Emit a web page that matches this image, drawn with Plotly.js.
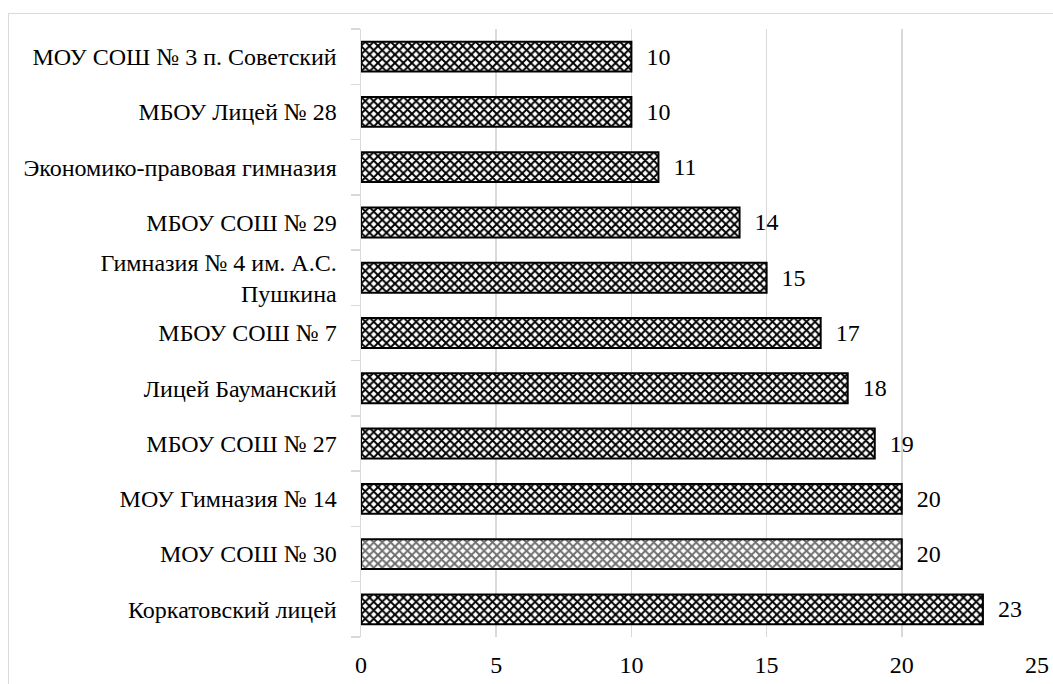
<!DOCTYPE html>
<html>
<head>
<meta charset="utf-8">
<script src="https://cdn.plot.ly/plotly-3.0.1.min.js"></script>
<style>
  html, body { margin: 0; padding: 0; background: #fff; }
  #wrap { position: relative; width: 1053px; height: 684px; overflow: hidden; }
  #chart { position: absolute; left: 0; top: 0; width: 1053px; height: 684px; }
  #frame { position: absolute; left: 8px; top: 13px; width: 1060px; height: 700px;
           border: 1.5px solid #d9d9d9; pointer-events: none; }
</style>
</head>
<body>
<div id="wrap">
  <div id="chart"></div>
  <div id="frame"></div>
</div>
<script>
// Categories listed from bottom to top
const categories = [
  "Коркатовский лицей",
  "МОУ СОШ № 30",
  "МОУ Гимназия № 14",
  "МБОУ СОШ № 27",
  "Лицей Бауманский",
  "МБОУ СОШ № 7",
  "Гимназия № 4 им. А.С.<br>Пушкина",
  "МБОУ СОШ № 29",
  "Экономико-правовая гимназия",
  "МБОУ Лицей № 28",
  "МОУ СОШ № 3 п. Советский"
];
const values = [23, 20, 20, 19, 18, 17, 15, 14, 11, 10, 10];
const xTicks = [0, 5, 10, 15, 20, 25];

const fg = categories.map(c => c === "МОУ СОШ № 30" ? "#6e6e6e" : "#000000");

const FONT = "Liberation Serif, Times New Roman, serif";

const trace = {
  type: "bar",
  orientation: "h",
  y: categories,
  x: values,
  text: values.map(v => "\u00a0\u00a0" + v),
  textposition: "outside",
  cliponaxis: false,
  textfont: { family: FONT, size: 24, color: "#000" },
  marker: {
    color: "#ffffff",
    line: { color: "#000000", width: 2 },
    pattern: { shape: "x", fgcolor: fg, bgcolor: "#ffffff", size: 6, solidity: 0.55 }
  },
  hoverinfo: "none"
};

const layout = {
  width: 1053,
  height: 684,
  margin: { l: 361, r: 16, t: 29, b: 47 },
  paper_bgcolor: "#ffffff",
  plot_bgcolor: "#ffffff",
  bargap: 0.46,
  showlegend: false,
  font: { family: FONT, size: 24, color: "#000" },
  xaxis: {
    range: [0, 25],
    tickvals: xTicks,
    ticktext: xTicks.map(String),
    showgrid: true,
    gridcolor: "#d9d9d9",
    gridwidth: 1.5,
    zeroline: false,
    showline: false,
    ticks: "",
    ticklabelstandoff: 11,
    tickfont: { family: FONT, size: 24 }
  },
  yaxis: {
    type: "category",
    categoryorder: "array",
    categoryarray: categories,
    showgrid: false,
    zeroline: false,
    showline: true,
    linecolor: "#d9d9d9",
    linewidth: 1.5,
    ticks: "outside",
    tickson: "boundaries",
    ticklen: 9,
    tickcolor: "#d9d9d9",
    tickwidth: 1.5,
    ticklabelstandoff: 18,
    tickfont: { family: FONT, size: 24 }
  }
};

Plotly.newPlot("chart", [trace], layout, { displayModeBar: false, staticPlot: true });
</script>
</body>
</html>
